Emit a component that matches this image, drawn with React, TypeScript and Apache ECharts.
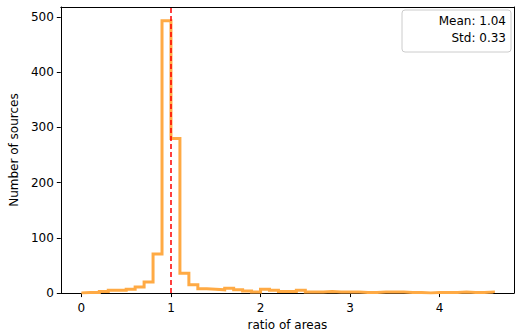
import React, { useEffect, useRef } from "react";
import * as echarts from "echarts";

// Histogram bin edges start and width (ratio of areas)
const binStart = 0.0;
const binWidth = 0.1;
// Counts per bin (46 bins: 0.0 .. 4.6)
const counts = [
  1, 1, 3, 5, 5, 7, 11, 20, 71, 493,
  280, 36, 15, 8, 7, 6, 9, 6, 4, 2,
  7, 5, 3, 3, 5, 2, 2, 3, 2, 2,
  2, 1, 1, 2, 2, 2, 1, 1, 0, 1,
  1, 1, 2, 1, 1, 2,
];
const xTicks = [0, 1, 2, 3, 4];
const yTicks = [0, 100, 200, 300, 400, 500];
const refLine = 1.0;
const legendLines = ["Mean: 1.04", "Std: 0.33"];

export default function App() {
  const ref = useRef<HTMLDivElement>(null);
  useEffect(() => {
    if (!ref.current) return;
    const chart = echarts.init(ref.current, undefined, { renderer: "svg" });
    const pts: number[][] = [[binStart, 0]];
    counts.forEach((c, i) => {
      const a = +(binStart + i * binWidth).toFixed(4);
      const b = +(binStart + (i + 1) * binWidth).toFixed(4);
      pts.push([a, c], [b, c]);
    });
    pts.push([+(binStart + counts.length * binWidth).toFixed(4), 0]);
    const font = "DejaVu Sans";
    const frameAxis = {
      type: "value",
      axisLine: { show: true, onZero: false, lineStyle: { color: "#000", width: 1 } },
      axisTick: { show: false },
      axisLabel: { show: false },
      splitLine: { show: false },
    };
    chart.setOption({
      animation: false,
      textStyle: { fontFamily: font },
      grid: { left: 57, right: 1, top: 7, bottom: 38 },
      xAxis: [
        {
          type: "value",
          min: -0.23,
          max: 4.83,
          name: "ratio of areas",
          nameLocation: "middle",
          nameGap: 24,
          nameTextStyle: { fontSize: 12, color: "#000", fontFamily: font },
          axisLine: { show: true, onZero: false, lineStyle: { color: "#000", width: 1 } },
          axisTick: { show: true, length: 4, customValues: xTicks, lineStyle: { color: "#000" } },
          axisLabel: { customValues: xTicks, fontSize: 12, color: "#000", margin: 9, fontFamily: font },
          splitLine: { show: false },
        },
        { ...frameAxis, position: "top", min: -0.23, max: 4.83 },
      ],
      yAxis: [
        {
          type: "value",
          min: 0,
          max: 518,
          name: "Number of sources",
          nameLocation: "middle",
          nameGap: 37,
          nameRotate: 90,
          nameTextStyle: { fontSize: 12, color: "#000", fontFamily: font },
          axisLine: { show: true, onZero: false, lineStyle: { color: "#000", width: 1 } },
          axisTick: { show: true, length: 4, customValues: yTicks, lineStyle: { color: "#000" } },
          axisLabel: { customValues: yTicks, fontSize: 12, color: "#000", margin: 7, fontFamily: font },
          splitLine: { show: false },
        },
        { ...frameAxis, position: "right", min: 0, max: 518 },
      ],
      series: [
        {
          type: "line",
          data: pts,
          showSymbol: false,
          symbol: "none",
          lineStyle: { color: "#FFAA44", width: 3, join: "miter" },
          markLine: {
            silent: true,
            symbol: "none",
            label: { show: false },
            lineStyle: { color: "#FF0000", type: [5, 3], width: 1.5 },
            data: [{ xAxis: refLine }],
          },
          z: 2,
        },
      ],
      graphic: [
        {
          type: "rect",
          shape: { x: 402, y: 10, width: 109, height: 42, r: 3 },
          style: { fill: "rgba(255,255,255,0.8)", stroke: "#cccccc", lineWidth: 1 },
          z: 10,
        },
        ...legendLines.map((t, i) => ({
          type: "text",
          x: 506,
          y: 21 + i * 16.5,
          style: {
            text: t,
            fill: "#000",
            fontSize: 12,
            fontFamily: font,
            align: "right",
            verticalAlign: "middle",
          },
          z: 11,
        })),
      ],
    });
    return () => chart.dispose();
  }, []);
  return (
    <div
      ref={ref}
      style={{ position: "absolute", left: 0, top: 0, width: 515, height: 336 }}
    />
  );
}
